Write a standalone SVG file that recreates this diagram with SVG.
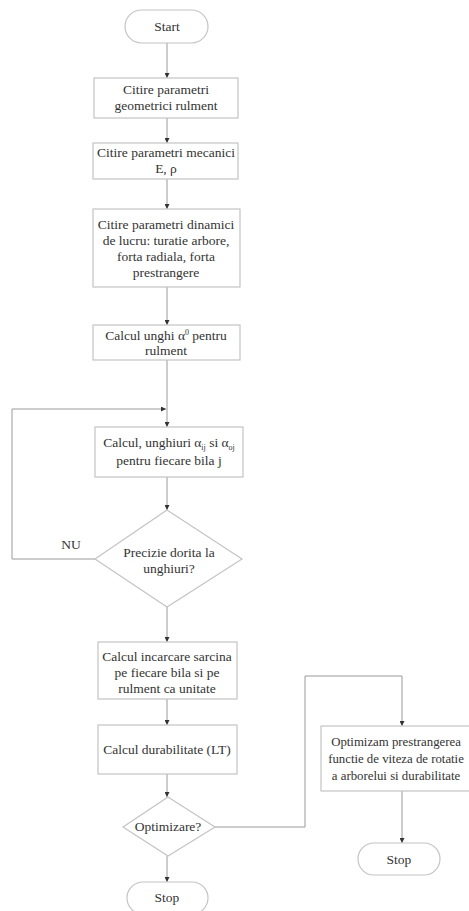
<svg xmlns="http://www.w3.org/2000/svg" width="469" height="911" viewBox="0 0 469 911">
<defs>
<marker id="ah" viewBox="0 0 10 10" refX="10" refY="5" markerWidth="5" markerHeight="5" orient="auto" markerUnits="userSpaceOnUse">
<path d="M0,0 L10,5 L0,10 Z" fill="#333"/>
</marker>
</defs>
<style>
.n{fill:#fff;stroke:#c4c4c4;stroke-width:1.2}
.t{font-family:'Liberation Serif','Times New Roman',serif;font-size:13.5px;fill:#333;text-anchor:middle}
.s{font-size:12.8px}
.c{fill:none;stroke:#9a9a9a;stroke-width:1}
.a{marker-end:url(#ah)}
</style>
<rect width="469" height="911" fill="#fff"/>
<g id="connectors">
<line class="c a" x1="167" y1="43" x2="167" y2="78"/>
<line class="c a" x1="167" y1="118" x2="167" y2="143"/>
<line class="c a" x1="167" y1="179" x2="167" y2="209"/>
<line class="c a" x1="167" y1="287" x2="167" y2="325"/>
<line class="c a" x1="167" y1="360" x2="167" y2="427"/>
<polyline class="c a" points="95,559 12,559 12,409 166,409"/>
<line class="c a" x1="167" y1="477" x2="167" y2="510"/>
<line class="c a" x1="167" y1="607" x2="167" y2="642"/>
<line class="c a" x1="167" y1="699" x2="167" y2="725"/>
<line class="c a" x1="167" y1="774" x2="167" y2="797"/>
<line class="c a" x1="167" y1="856" x2="167" y2="882"/>
<polyline class="c a" points="215,827 305,827 305,676 402,676 402,726"/>
<line class="c a" x1="402" y1="791" x2="402" y2="843"/>
<text class="t" x="71" y="549">NU</text>
</g>
<g id="start">
<rect class="n" x="125" y="10" width="83" height="33" rx="16.5"/>
<text class="t" x="167" y="31">Start</text>
</g>
<g id="box1">
<rect class="n" x="94" y="78" width="144" height="40"/>
<text class="t" x="166" y="94">Citire parametri</text>
<text class="t" x="166" y="110">geometrici rulment</text>
</g>
<g id="box2">
<rect class="n" x="93" y="143" width="145" height="36"/>
<text class="t" x="166" y="157">Citire parametri mecanici</text>
<text class="t" x="166" y="173">E, ρ</text>
</g>
<g id="box3">
<rect class="n" x="93" y="209" width="147" height="78"/>
<text class="t" x="166" y="229">Citire parametri dinamici</text>
<text class="t" x="166" y="245">de lucru: turatie arbore,</text>
<text class="t" x="166" y="261">forta radiala, forta</text>
<text class="t" x="166" y="277">prestrangere</text>
</g>
<g id="box4">
<rect class="n" x="93" y="325" width="147" height="35"/>
<text class="t" x="166" y="340">Calcul unghi α<tspan font-size="8" dy="-5">0</tspan><tspan dy="5"> pentru</tspan></text>
<text class="t" x="166" y="355">rulment</text>
</g>
<g id="box5">
<rect class="n" x="95" y="427" width="148" height="50"/>
<text class="t" x="169" y="447">Calcul, unghiuri  α<tspan font-size="8" dy="3">ij</tspan><tspan dy="-3"> si α</tspan><tspan font-size="8" dy="3">oj</tspan></text>
<text class="t" x="169" y="465">pentru fiecare bila j</text>
</g>
<g id="decision1">
<polygon class="n" points="167,510 242,559 167,607 95,559"/>
<text class="t" x="169" y="557">Precizie dorita la</text>
<text class="t" x="169" y="573">unghiuri?</text>
</g>
<g id="box6">
<rect class="n" x="98" y="642" width="139" height="57"/>
<text class="t" x="167" y="661">Calcul incarcare sarcina</text>
<text class="t" x="167" y="677">pe fiecare bila si pe</text>
<text class="t" x="167" y="693">rulment ca unitate</text>
</g>
<g id="box7">
<rect class="n" x="98" y="725" width="139" height="49"/>
<text class="t" x="167" y="754">Calcul durabilitate (LT)</text>
</g>
<g id="decision2">
<polygon class="n" points="168,797 215,827 168,856 123,827"/>
<text class="t" x="168" y="831">Optimizare?</text>
</g>
<g id="stop1">
<rect class="n" x="127" y="882" width="81" height="32" rx="16"/>
<text class="t" x="167" y="902">Stop</text>
</g>
<g id="box8">
<rect class="n" x="321" y="726" width="160" height="65"/>
<text class="t s" x="396" y="746">Optimizam prestrangerea</text>
<text class="t s" x="396" y="763">functie de viteza de rotatie</text>
<text class="t s" x="396" y="780">a arborelui si durabilitate</text>
</g>
<g id="stop2">
<rect class="n" x="358" y="843" width="82" height="32" rx="16"/>
<text class="t" x="399" y="864">Stop</text>
</g>
</svg>
